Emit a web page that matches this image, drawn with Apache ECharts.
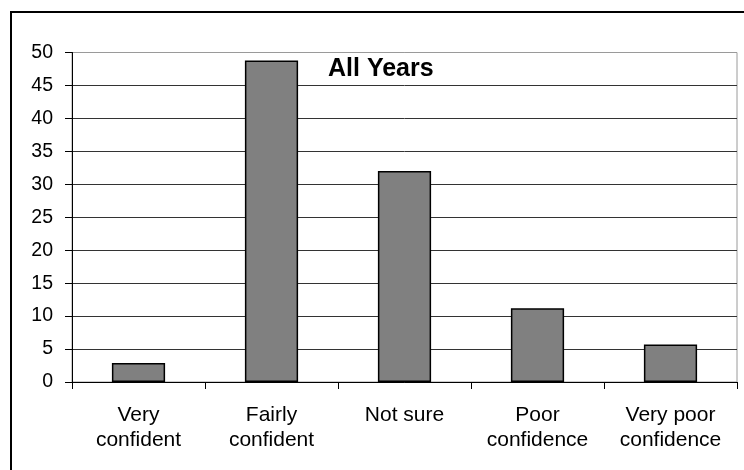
<!DOCTYPE html>
<html><head><meta charset="utf-8">
<script src="https://cdn.jsdelivr.net/npm/echarts@6/dist/echarts.min.js"></script>
<style>html,body{margin:0;padding:0;background:#fff}#c{width:744px;height:470px}</style>
</head><body><div id="c"></div>
<script>
const categories = ['Very\nconfident', 'Fairly\nconfident', 'Not sure', 'Poor\nconfidence', 'Very poor\nconfidence'];
const values = [2.9, 48.8, 32.0, 11.2, 5.7];
const titleText = 'All Years';

const chart = echarts.init(document.getElementById('c'), null, {renderer: 'canvas'});
const gridColors = [];
for (let i = 0; i <= 10; i++) gridColors.push(i === 10 ? '#9a9a9a' : '#333333');
chart.setOption({
  animation: false,
  textStyle: {fontFamily: 'Liberation Sans, Arial, sans-serif'},
  title: {text: titleText, left: 328, top: 57, padding: 0, textStyle: {fontFamily: 'Liberation Sans, Arial, sans-serif', fontWeight: 'bold', fontSize: 25, color: '#000'}},
  graphic: [{type: 'rect', shape: {x: 11, y: 12, width: 800, height: 600}, style: {fill: 'none', stroke: '#000', lineWidth: 2}, z: 100}],
  grid: {left: 72, top: 52.5, right: 7, bottom: 88, show: true, borderColor: '#9a9a9a', borderWidth: 1, backgroundColor: 'transparent'},
  xAxis: {
    type: 'category', data: categories,
    axisLine: {lineStyle: {color: '#000', width: 1}},
    axisTick: {show: true, length: 7, lineStyle: {color: '#000'}},
    axisLabel: {color: '#000', fontSize: 21, lineHeight: 25, margin: 21, interval: 0}
  },
  yAxis: {
    type: 'value', min: 0, max: 50, interval: 5,
    axisLine: {show: true, lineStyle: {color: '#000', width: 1}},
    axisTick: {show: true, length: 7, lineStyle: {color: '#000'}},
    axisLabel: {color: '#000', fontSize: 19.5, margin: 19},
    splitLine: {show: true, lineStyle: {color: gridColors, width: 1}}
  },
  series: [{
    type: 'bar', data: values, barWidth: '40%',
    itemStyle: {color: '#808080', borderColor: '#000', borderWidth: 1.5}
  }]
});
</script></body></html>
